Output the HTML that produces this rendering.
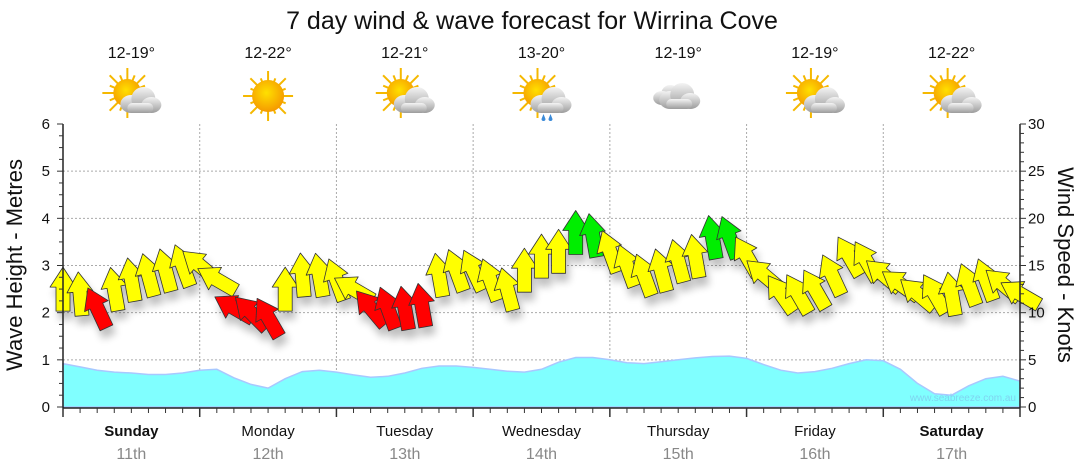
<!DOCTYPE html>
<html><head><meta charset="utf-8"><style>
body{margin:0;background:#fff;}
svg{display:block;font-family:"Liberation Sans",sans-serif;}
</style></head><body>
<svg id="chart" width="1080" height="475" viewBox="0 0 1080 475">
<defs>
<filter id="sh" x="-50%" y="-50%" width="200%" height="200%"><feGaussianBlur in="SourceAlpha" stdDeviation="4"/><feOffset dx="3" dy="8"/><feComponentTransfer><feFuncA type="linear" slope="0.25"/></feComponentTransfer><feMerge><feMergeNode/><feMergeNode in="SourceGraphic"/></feMerge></filter>
<radialGradient id="sun" cx="45%" cy="40%" r="60%"><stop offset="0" stop-color="#ffe000"/><stop offset="1" stop-color="#f59a00"/></radialGradient>
<linearGradient id="cloud" x1="0" y1="0" x2="0" y2="1"><stop offset="0" stop-color="#f4f4f4"/><stop offset="1" stop-color="#9c9c9c"/></linearGradient>
</defs>
<text x="532" y="29" text-anchor="middle" font-size="25" fill="#111">7 day wind &amp; wave forecast for Wirrina Cove</text>
<g id="grid"></g>
<g id="waves"></g>
<g id="arrows" filter="url(#sh)"></g>
<g id="axes"></g>
<g id="days"></g>
<text x="0" y="0" transform="translate(22,265) rotate(-90)" text-anchor="middle" font-size="22" fill="#111">Wave Height - Metres</text>
<text x="0" y="0" transform="translate(1058,265) rotate(90)" text-anchor="middle" font-size="22" fill="#111">Wind Speed - Knots</text>
<text x="1016" y="401" text-anchor="end" font-size="10" fill="#7fd4f0">www.seabreeze.com.au</text>
</svg>
<script>
const dayNames=["Sunday","Monday","Tuesday","Wednesday","Thursday","Friday","Saturday"];
const dayDates=["11th","12th","13th","14th","15th","16th","17th"];
const temps=["12-19°","12-22°","12-21°","13-20°","12-19°","12-19°","12-22°"];
const icons=["partly","sunny","partly","showers","cloudy","partly","partly"];
const waveHeights=[0.92,0.85,0.78,0.74,0.72,0.69,0.69,0.72,0.78,0.8,0.62,0.48,0.4,0.6,0.75,0.78,0.74,0.68,0.63,0.65,0.72,0.82,0.87,0.87,0.84,0.8,0.76,0.74,0.8,0.95,1.05,1.05,1.0,0.94,0.92,0.96,1.0,1.04,1.07,1.08,1.03,0.9,0.78,0.72,0.75,0.82,0.92,1.0,0.98,0.8,0.5,0.28,0.25,0.45,0.6,0.65,0.55];
const windSpeeds=[12.5,12,10.5,12.5,13.5,14,14.5,15,15,13.5,10.5,10,9.5,12.5,14,14,13.5,12.5,10.5,10.5,10.5,10.8,14,14.5,14.5,13.5,12.5,14.5,16,16.5,18.5,18.2,16.5,15,14,14.5,15.5,16,18,18,16,14,12,12,12.5,14,16,15.5,14,13,12,12,12,13,13.5,13,12];
const windDirs=[0,-5,-25,-10,-10,-15,-15,-20,-50,-60,-60,-45,-30,0,-5,-10,-20,-60,-40,-20,-10,-10,-10,-20,-25,-20,-15,0,0,0,0,-10,-20,-20,-20,-15,-15,-10,-10,-20,-30,-50,-35,-30,-30,-25,-30,-30,-50,-55,-50,-30,-10,-20,-20,-50,-60];
const NS="http://www.w3.org/2000/svg";
const X0=63,X1=1020,Y0=407,Y1=124;
const nPts=waveHeights.length;
const xAt=i=>X0+(X1-X0)*i/(nPts-1);
const yM=m=>Y0-(Y0-Y1)*m/6;
const yK=k=>Y0-(Y0-Y1)*k/30;
function mk(tag,attrs,parent){const e=document.createElementNS(NS,tag);for(const k in attrs)e.setAttribute(k,attrs[k]);parent.appendChild(e);return e;}
const grid=document.getElementById('grid'),axes=document.getElementById('axes'),days=document.getElementById('days');
for(let m=1;m<=5;m++){const l=mk('line',{x1:X0,x2:X1,y1:yM(m),y2:yM(m),stroke:'#aaa','stroke-dasharray':'2,2'},grid);

}
for(let d=1;d<7;d++){const x=X0+(X1-X0)*d/7;const l=mk('line',{x1:x,x2:x,y1:Y1,y2:Y0,stroke:'#aaa','stroke-dasharray':'2,2'},grid);

}
let d='M'+X0+','+Y0;
waveHeights.forEach((v,i)=>{d+=' L'+xAt(i).toFixed(1)+','+yM(v).toFixed(1);});
d+=' L'+X1+','+Y0+' Z';
const wa=mk('path',{d:d,fill:'#80ffff',stroke:'#a8c8ff','stroke-width':1.5},document.getElementById('waves'));


const ag=document.getElementById('arrows');
windSpeeds.forEach((s,i)=>{
 const col=s<11?'#ff0000':(s>=18?'#00ee00':'#ffff00');
 const p=mk('polygon',{points:'0,-22 13,-2 7,-2 7,22 -7,22 -7,-2 -13,-2',fill:col,stroke:'#333','stroke-width':0.8,'stroke-linejoin':'round',transform:'translate('+xAt(i).toFixed(1)+','+yK(s).toFixed(1)+') rotate('+windDirs[i]+')'},ag);
 
 
});
mk('line',{x1:X0,x2:X0,y1:Y1,y2:Y0+1,stroke:'#222','stroke-width':1.5},axes);
mk('line',{x1:X1,x2:X1,y1:Y1,y2:Y0+1,stroke:'#222','stroke-width':1.5},axes);
mk('line',{x1:X0,x2:X1,y1:Y0+1,y2:Y0+1,stroke:'#222','stroke-width':1.5},axes);
for(let q=0;q<=24;q++){const m=q/4,y=yM(m),maj=q%4==0;
 mk('line',{x1:X0-(maj?6:4),x2:X0,y1:y,y2:y,stroke:'#333'},axes);
 if(maj){const t=mk('text',{x:50,y:y+5,'text-anchor':'end','font-size':15,fill:'#111'},axes);t.textContent=m;
 
 }}
for(let k=0;k<=30;k++){const y=yK(k),maj=k%5==0;
 mk('line',{x1:X1,x2:X1+(maj?6:4),y1:y,y2:y,stroke:'#333'},axes);
 if(maj){const t=mk('text',{x:1028,y:y+5,'font-size':15,fill:'#111'},axes);t.textContent=k;
 
 }}
for(let i=0;i<nPts;i++){const x=xAt(i),maj=i%8==0;mk('line',{x1:x,x2:x,y1:Y0+1,y2:Y0+(maj?10:6),stroke:'#333','stroke-width':maj?1.5:1},axes);}
const dw=(X1-X0)/7;
dayNames.forEach((n,i)=>{const cx=X0+dw*(i+0.5);
 const a=mk('text',{x:cx,y:436,'text-anchor':'middle','font-size':15,fill:'#111','font-weight':(i==0||i==6)?'bold':'normal'},days);a.textContent=n;
 
 
 const b=mk('text',{x:cx,y:459,'text-anchor':'middle','font-size':16,fill:'#888'},days);b.textContent=dayDates[i];
 
 
 const t=mk('text',{x:cx,y:58,'text-anchor':'middle','font-size':16,fill:'#111'},days);t.textContent=temps[i];
 
 
 const g=mk('g',{transform:'translate('+cx+',96)'},days);
 
 
 const ic=icons[i];
 if(ic!='cloudy'){const sx=ic=='sunny'?0:-4,sy=ic=='sunny'?0:-3;
  let rays='';for(let r=0;r<16;r++){const an=r*Math.PI/8,L=r%2?19:25;rays+=`<line x1="${sx}" y1="${sy}" x2="${(sx+Math.cos(an)*L).toFixed(1)}" y2="${(sy+Math.sin(an)*L).toFixed(1)}" stroke="#f5b800" stroke-width="2"/>`;}
  g.innerHTML+=rays+`<circle cx="${sx}" cy="${sy}" r="${ic=='sunny'?16:14}" fill="url(#sun)"/>`;}
 if(ic!='sunny'){const ox=ic=='cloudy'?0:8,oy=ic=='cloudy'?0:4;
  g.innerHTML+=`<g transform="translate(${ox},${oy})"><ellipse cx="-8" cy="4" rx="11" ry="9" fill="url(#cloud)"/><circle cx="4" cy="-1" r="12" fill="url(#cloud)"/><ellipse cx="12" cy="5" rx="10" ry="8" fill="url(#cloud)"/><rect x="-12" y="3" width="26" height="10" rx="5" fill="url(#cloud)"/></g>`;
  if(ic=='cloudy')g.innerHTML=`<g transform="translate(-8,-2)"><circle cx="0" cy="0" r="9" fill="url(#cloud)"/><ellipse cx="-8" cy="4" rx="9" ry="7" fill="url(#cloud)"/></g>`+g.innerHTML;
  if(ic=='showers')g.innerHTML+=`<path d="M2,18 l-2,5 a2,2 0 0 0 4,0z M9,18 l-2,5 a2,2 0 0 0 4,0z" fill="#3a8ad8"/>`;}
});
</script>
</body></html>
